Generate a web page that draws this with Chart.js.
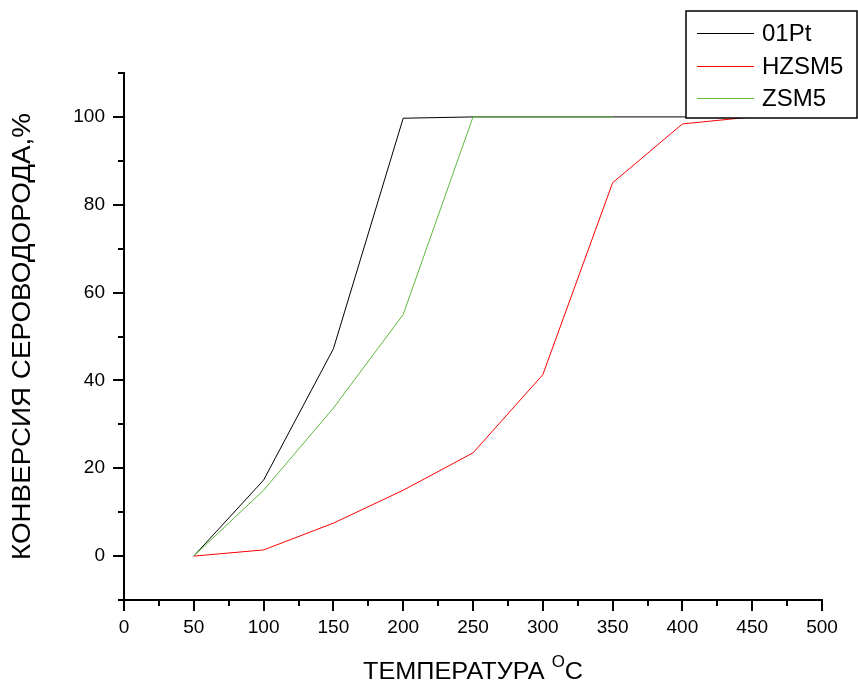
<!DOCTYPE html>
<html>
<head>
<meta charset="utf-8">
<script src="https://cdn.jsdelivr.net/npm/chart.js@4"></script>
<style>
  html, body { margin: 0; padding: 0; background: #fff; }
</style>
</head>
<body>
<canvas id="myChart" width="858" height="681"></canvas>
<script>
// temperatures, °C
const temps = [50, 100, 150, 200, 250, 300, 350, 400, 450];
const pt01 = [0, 17.3, 47.2, 99.7, 100, 100, 100, 100, 100];
const hzsm5 = [0, 1.4, 7.5, 15, 23.5, 41.3, 85, 98.4, 100];
const zsm5 = [0, 15, 33.7, 55, 100, 100, 100];

const seriesNames = ["01Pt", "HZSM5", "ZSM5"];
const seriesColors = ["#000000", "#ff0000", "#5cb83c"];
const xTitle = "ТЕМПЕРАТУРА";
const yTitle = "КОНВЕРСИЯ СЕРОВОДОРОДА,%";

const toPoints = (vals) => vals.map((v, i) => ({ x: temps[i], y: v }));

Chart.defaults.font.family = "'Liberation Sans', Arial, sans-serif";
Chart.defaults.color = "#000";

// minor/major tick marks, drawn outside the plot
const axisTicks = {
  id: "axisTicks",
  afterDraw(chart) {
    const ctx = chart.ctx;
    const area = chart.chartArea;
    const xs = chart.scales.x, ys = chart.scales.y;
    ctx.save();
    ctx.strokeStyle = "#000";
    ctx.lineWidth = 2;
    ctx.beginPath();
    xs.ticks.forEach(t => {
      const px = Math.round(xs.getPixelForValue(t.value));
      const len = t.value % 50 === 0 ? 11 : 6;
      ctx.moveTo(px, area.bottom);
      ctx.lineTo(px, area.bottom + len);
    });
    ys.ticks.forEach(t => {
      const py = Math.round(ys.getPixelForValue(t.value));
      const len = t.value % 20 === 0 ? 11 : 6;
      ctx.moveTo(area.left, py);
      ctx.lineTo(area.left - len, py);
    });
    ctx.stroke();
    ctx.restore();
  }
};

// axis titles (x title has a superscript "O")
const axisTitles = {
  id: "axisTitles",
  afterDraw(chart) {
    const ctx = chart.ctx;
    const area = chart.chartArea;
    ctx.save();
    ctx.fillStyle = "#000";
    ctx.textBaseline = "alphabetic";
    const big = "24px 'Liberation Sans', Arial, sans-serif";
    const small = "16px 'Liberation Sans', Arial, sans-serif";
    ctx.font = big;
    const w1 = ctx.measureText(xTitle + " ").width;
    const w3 = ctx.measureText("C").width;
    ctx.font = small;
    const w2 = ctx.measureText("O").width;
    const total = w1 + w2 + w3;
    const sx = 220 / total;
    const base = 679;
    ctx.save();
    ctx.translate((area.left + area.right) / 2 - 110, base);
    ctx.scale(sx, 1);
    let x = 0;
    ctx.font = big;
    ctx.fillText(xTitle + " ", x, 0);
    x += w1;
    ctx.font = small;
    ctx.fillText("O", x, -12);
    x += w2;
    ctx.font = big;
    ctx.fillText("C", x, 0);
    ctx.restore();

    // y title, rotated
    ctx.font = "25px 'Liberation Sans', Arial, sans-serif";
    const wy = ctx.measureText(yTitle).width;
    const target = 447;
    ctx.translate(30, (area.top + area.bottom) / 2);
    ctx.rotate(-Math.PI / 2);
    ctx.scale(target / wy, 1);
    ctx.textAlign = "center";
    ctx.fillText(yTitle, 0, 0);
    ctx.restore();
  }
};

// boxed legend in the top right corner, drawn over the plot
const boxLegend = {
  id: "boxLegend",
  afterDraw(chart) {
    const ctx = chart.ctx;
    const left = 686, top = 11, right = 857, bottom = 118;
    ctx.save();
    ctx.fillStyle = "#fff";
    ctx.fillRect(left, top, right - left, bottom - top);
    ctx.strokeStyle = "#000";
    ctx.lineWidth = 1.5;
    ctx.strokeRect(left, top, right - left, bottom - top);
    ctx.font = "24px 'Liberation Sans', Arial, sans-serif";
    ctx.textBaseline = "middle";
    seriesNames.forEach((name, i) => {
      const y = Math.round(33 + i * 32.5) + 0.5;
      ctx.strokeStyle = seriesColors[i];
      ctx.lineWidth = 1;
      ctx.beginPath();
      ctx.moveTo(697, y);
      ctx.lineTo(754, y);
      ctx.stroke();
      ctx.fillStyle = "#000";
      ctx.fillText(name, 762, y + 1);
    });
    ctx.restore();
  }
};

const ctx = document.getElementById("myChart").getContext("2d");
const myChart = new Chart(ctx, {
  type: "line",
  data: {
    datasets: [
      { label: seriesNames[0], data: toPoints(pt01), borderColor: seriesColors[0], order: 2 },
      { label: seriesNames[1], data: toPoints(hzsm5), borderColor: seriesColors[1], order: 1 },
      { label: seriesNames[2], data: toPoints(zsm5), borderColor: seriesColors[2], order: 0 }
    ]
  },
  options: {
    responsive: false,
    animation: false,
    layout: { padding: { left: 0, top: 73, right: 36, bottom: 0 } },
    elements: {
      line: { borderWidth: 1, tension: 0, fill: false },
      point: { radius: 0, hoverRadius: 0 }
    },
    plugins: {
      legend: { display: false },
      tooltip: { enabled: false }
    },
    scales: {
      x: {
        type: "linear",
        min: 0,
        max: 500,
        grid: { display: true, drawOnChartArea: false, drawTicks: false, color: "rgba(0,0,0,0)" },
        border: { display: true, color: "#000", width: 2 },
        ticks: {
          stepSize: 25,
          padding: 16,
          maxRotation: 0,
          autoSkip: false,
          font: { size: 19 },
          callback: v => (v % 50 === 0 ? String(v) : "")
        },
        afterFit: s => { s.height = 681 - 600; }
      },
      y: {
        type: "linear",
        min: -10,
        max: 110,
        grid: { display: true, drawOnChartArea: false, drawTicks: false, color: "rgba(0,0,0,0)" },
        border: { display: true, color: "#000", width: 2 },
        ticks: {
          stepSize: 10,
          padding: 19,
          autoSkip: false,
          font: { size: 19 },
          callback: v => (v % 20 === 0 ? String(v) : "")
        },
        afterFit: s => { s.width = 124; }
      }
    }
  },
  plugins: [axisTicks, axisTitles, boxLegend]
});
</script>
</body>
</html>
